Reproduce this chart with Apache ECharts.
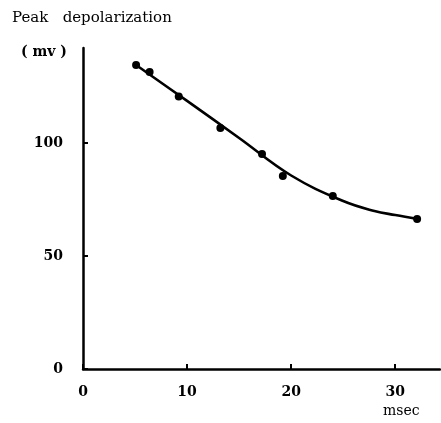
<!DOCTYPE html>
<html>
<head>
<meta charset="utf-8">
<script src="https://cdn.jsdelivr.net/npm/echarts@6/dist/echarts.min.js"></script>
<style>
  html, body { margin: 0; padding: 0; background: #fff; }
  #chart { width: 441px; height: 423px; }
</style>
</head>
<body>
<div id="chart"></div>
<script>
// Measured peak depolarization (mV) against interval (msec)
const timesMs = [5.1, 6.4, 9.2, 13.2, 17.2, 19.2, 24.0, 32.1];
const peakMv = [134.5, 131.4, 120.5, 106.6, 95.1, 85.4, 76.5, 66.4];

// Hand-drawn smooth trend through the measurements
const curveMs = [5.1, 10, 15, 20, 25, 28, 30, 32.1];
const curveMv = [134.5, 118.6, 102.2, 85.6, 74.3, 69.9, 68.1, 66.4];

const xTicks = [0, 10, 20, 30];
const yTicks = [0, 50, 100];

const serif = '"DejaVu Serif", "Liberation Serif", serif';
const ink = '#000';

const chart = echarts.init(document.getElementById('chart'), null, { renderer: 'canvas' });

chart.setOption({
  animation: false,
  backgroundColor: '#fff',
  grid: { left: 83, right: 1, top: 48, bottom: 54, containLabel: false },
  xAxis: {
    type: 'value',
    min: 0,
    max: 34.3,
    interval: 10,
    axisLine: { show: true, lineStyle: { color: ink, width: 2.5 } },
    axisTick: { show: true, inside: true, length: 5, lineStyle: { color: ink, width: 2 } },
    splitLine: { show: false },
    axisLabel: {
      margin: 16,
      color: ink,
      fontFamily: serif,
      fontWeight: 'bold',
      fontSize: 14,
      showMaxLabel: false,
      formatter: v => (xTicks.includes(v) ? String(v) : '')
    }
  },
  yAxis: {
    type: 'value',
    min: 0,
    max: 142,
    interval: 50,
    axisLine: { show: true, lineStyle: { color: ink, width: 2.5 } },
    axisTick: { show: true, inside: true, length: 5, lineStyle: { color: ink, width: 2 } },
    splitLine: { show: false },
    axisLabel: {
      margin: 20,
      color: ink,
      fontFamily: serif,
      fontWeight: 'bold',
      fontSize: 14,
      showMaxLabel: false,
      formatter: v => (yTicks.includes(v) ? String(v) : '')
    }
  },
  graphic: [
    {
      type: 'text', left: 12, top: 11,
      style: { text: 'Peak   depolarization', fill: ink, font: '15px ' + serif }
    },
    {
      type: 'text', left: 21, top: 45,
      style: { text: '( mv )', fill: ink, font: 'bold 14px ' + serif }
    },
    {
      type: 'text', left: 383, top: 404,
      style: { text: 'msec', fill: ink, font: '14px ' + serif }
    }
  ],
  series: [
    {
      type: 'line',
      data: curveMs.map((x, i) => [x, curveMv[i]]),
      smooth: 0.4,
      showSymbol: false,
      lineStyle: { color: ink, width: 2.6 },
      z: 2
    },
    {
      type: 'scatter',
      data: timesMs.map((x, i) => [x, peakMv[i]]),
      symbol: 'circle',
      symbolSize: 8,
      itemStyle: { color: ink, opacity: 1 },
      z: 3
    }
  ]
});
</script>
</body>
</html>
